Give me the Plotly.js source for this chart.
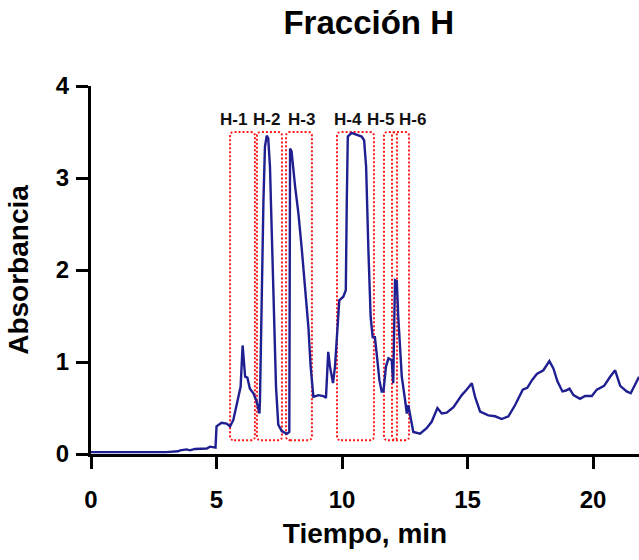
<!DOCTYPE html>
<html>
<head>
<meta charset="utf-8">
<script src="https://cdn.plot.ly/plotly-3.0.1.min.js"></script>
<style>
  html, body { margin: 0; padding: 0; background: #ffffff; }
  #chart { width: 639px; height: 560px; }
</style>
</head>
<body>
<div id="chart"></div>
<script>
// Chromatogram: time (min) and absorbance
var time = [0, 1, 2, 3, 3.47, 3.55, 3.81, 3.94, 4.14, 4.34, 4.61, 4.74, 4.87, 4.96, 5.0,
  5.2, 5.4, 5.54, 5.67, 5.87, 5.96, 6.04, 6.14, 6.23, 6.33, 6.47, 6.60, 6.71, 6.73, 6.87,
  6.93, 7.0, 7.06, 7.13, 7.20, 7.26, 7.33, 7.37, 7.46, 7.60, 7.80, 7.90, 7.93, 7.99, 8.13,
  8.26, 8.39, 8.53, 8.66, 8.75, 8.86, 9.06, 9.26, 9.36, 9.45, 9.52, 9.64, 9.72, 9.79, 9.89,
  10.05, 10.15, 10.19, 10.23, 10.38, 10.59, 10.78, 10.88, 10.96, 11.05, 11.14, 11.22, 11.31, 11.38, 11.49,
  11.58, 11.65, 11.75, 11.85, 11.98, 12.04, 12.11, 12.18, 12.24, 12.31, 12.38, 12.51, 12.58, 12.64, 12.71,
  12.84, 13.11, 13.37, 13.57, 13.80, 13.97, 14.17, 14.44, 14.77, 14.97, 15.17, 15.30, 15.50, 15.83, 16.10,
  16.36, 16.63, 16.89, 17.20, 17.38, 17.56, 17.76, 18.02, 18.26, 18.42, 18.58, 18.78, 18.92, 19.06, 19.22,
  19.48, 19.68, 19.95, 20.15, 20.28, 20.44, 20.68, 20.88, 21.08, 21.34, 21.50, 21.67, 21.83];
var absorbance = [0.02, 0.02, 0.02, 0.02, 0.03, 0.04, 0.05, 0.04, 0.055, 0.06, 0.06, 0.08, 0.07, 0.07, 0.30,
  0.34, 0.33, 0.30, 0.37, 0.62, 0.73, 1.18, 0.84, 0.83, 0.71, 0.66, 0.57, 0.44, 0.57, 2.76,
  3.34, 3.46, 3.43, 3.12, 2.40, 1.82, 1.31, 0.73, 0.32, 0.25, 0.22, 0.24, 3.32, 3.29, 2.91,
  2.62, 2.25, 1.82, 1.38, 0.95, 0.62, 0.64, 0.63, 0.61, 1.11, 0.95, 0.77, 0.95, 1.31, 1.67,
  1.71, 1.78, 2.76, 3.45, 3.49, 3.47, 3.45, 3.41, 3.12, 2.22, 1.49, 1.27, 1.27, 1.09, 0.80,
  0.68, 0.68, 0.95, 1.04, 1.02, 0.77, 1.89, 1.88, 1.49, 1.13, 0.84, 0.59, 0.44, 0.53, 0.44,
  0.24, 0.22, 0.28, 0.35, 0.50, 0.44, 0.45, 0.51, 0.64, 0.70, 0.77, 0.62, 0.46, 0.42, 0.41,
  0.38, 0.41, 0.53, 0.70, 0.72, 0.80, 0.87, 0.91, 1.01, 0.93, 0.79, 0.68, 0.69, 0.71, 0.64,
  0.60, 0.63, 0.63, 0.70, 0.72, 0.74, 0.84, 0.91, 0.74, 0.68, 0.66, 0.75, 0.84];

// Fraction windows
var fractionLabels = ["H-1", "H-2", "H-3", "H-4", "H-5", "H-6"];
var fractionStart  = [5.54, 6.61, 7.77, 9.80, 11.67, 11.99];
var fractionEnd    = [6.53, 7.61, 8.80, 11.27, 12.19, 12.67];
var fractionTop    = [3.50, 3.50, 3.50, 3.50, 3.50, 3.50];
var fractionBottom = [0.15, 0.15, 0.15, 0.15, 0.15, 0.15];
var labelX         = [5.68, 7.01, 8.37, 10.24, 11.55, 12.79];
var labelY         = [3.64, 3.64, 3.64, 3.64, 3.64, 3.64];

var xTicks = [0, 5, 10, 15, 20];
var yTicks = [0, 1, 2, 3, 4];

var FONT = "Liberation Sans, Arial, Helvetica, sans-serif";

function roundedRectPath(x0, x1, y0, y1) {
  var rx = 0.16, ry = 0.045;
  return "M" + (x0 + rx) + "," + y0 +
    " L" + (x1 - rx) + "," + y0 +
    " Q" + x1 + "," + y0 + " " + x1 + "," + (y0 + ry) +
    " L" + x1 + "," + (y1 - ry) +
    " Q" + x1 + "," + y1 + " " + (x1 - rx) + "," + y1 +
    " L" + (x0 + rx) + "," + y1 +
    " Q" + x0 + "," + y1 + " " + x0 + "," + (y1 - ry) +
    " L" + x0 + "," + (y0 + ry) +
    " Q" + x0 + "," + y0 + " " + (x0 + rx) + "," + y0 + " Z";
}

var shapes = fractionLabels.map(function (lab, i) {
  return {
    type: "path", xref: "x", yref: "y", layer: "below",
    path: roundedRectPath(fractionStart[i], fractionEnd[i], fractionBottom[i], fractionTop[i]),
    line: { color: "#ff1a1a", width: 2, dash: "2px,2px" },
    fillcolor: "rgba(0,0,0,0)"
  };
});

var annotations = fractionLabels.map(function (lab, i) {
  return {
    x: labelX[i], y: labelY[i], xref: "x", yref: "y",
    text: lab, showarrow: false, xanchor: "center", yanchor: "middle",
    font: { family: FONT, size: 17, weight: "bold", color: "#111111" }
  };
});

var trace = {
  x: time, y: absorbance, type: "scatter", mode: "lines",
  line: { color: "#1f1f92", width: 2.4 },
  hoverinfo: "x+y"
};

var axisCommon = {
  showline: true, linecolor: "#000000", linewidth: 3,
  ticks: "outside", ticklen: 12, tickwidth: 3, tickcolor: "#000000",
  showgrid: false, zeroline: false,
  tickfont: { family: FONT, size: 24, weight: "bold", color: "#000000" }
};

var layout = {
  width: 639, height: 560,
  margin: { l: 91, r: 0, t: 86, b: 106 },
  paper_bgcolor: "#ffffff", plot_bgcolor: "#ffffff",
  showlegend: false,
  title: {
    text: "Fracción H", xref: "container", x: 0.577, xanchor: "center",
    yref: "container", y: 0.96, yanchor: "middle",
    font: { family: FONT, size: 33, weight: "bold", color: "#000000" }
  },
  xaxis: Object.assign({}, axisCommon, {
    range: [0, 21.83], tickmode: "array", tickvals: xTicks, ticktext: xTicks.map(String),
    ticklabelstandoff: 10,
    title: { text: "Tiempo, min", standoff: 12,
      font: { family: FONT, size: 28, weight: "bold", color: "#000000" } }
  }),
  yaxis: Object.assign({}, axisCommon, {
    range: [0, 4], tickmode: "array", tickvals: yTicks, ticktext: yTicks.map(String),
    ticklabelstandoff: 2,
    title: { text: "Absorbancia", standoff: 20,
      font: { family: FONT, size: 28, weight: "bold", color: "#000000" } }
  }),
  shapes: shapes,
  annotations: annotations
};

Plotly.newPlot("chart", [trace], layout, { displayModeBar: false, staticPlot: true });
</script>
</body>
</html>
